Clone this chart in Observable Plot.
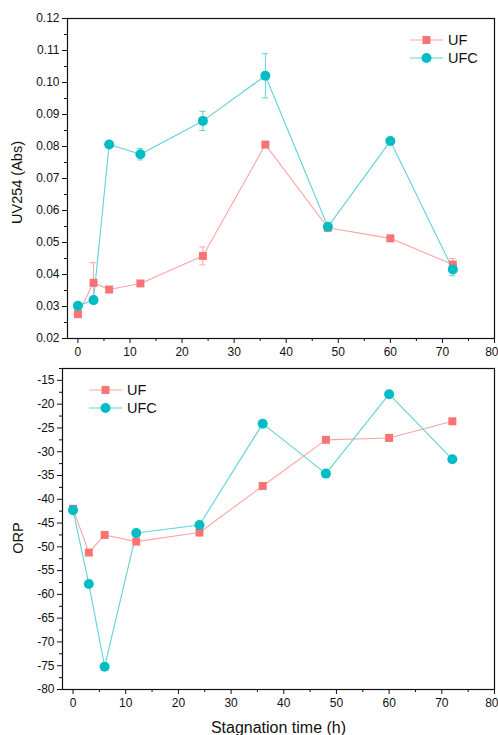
<!DOCTYPE html>
<html>
<head>
<meta charset="utf-8">
<script src="https://cdn.jsdelivr.net/npm/d3@7"></script>
<script src="https://cdn.jsdelivr.net/npm/@observablehq/plot@0.6"></script>
<style>
  body { margin: 0; background: #fff; font-family: "Liberation Sans", Arial, sans-serif; }
  #wrap { position: relative; width: 498px; height: 735px; }
  .legend { position: absolute; font-size: 14.5px; color: #111; }
  .legend svg { display: block; }
</style>
</head>
<body>
<div id="wrap"></div>
<script>
// ---------- data ----------
const times = [0, 3, 6, 12, 24, 36, 48, 60, 72];
const uvUF     = [0.0276, 0.0374, 0.0353, 0.0372, 0.0458, 0.0806, 0.0546, 0.0513, 0.0431];
const uvUFErr  = [0, 0.0063, 0, 0, 0.0028, 0, 0, 0, 0.0019];
const uvUFC    = [0.0302, 0.0320, 0.0806, 0.0776, 0.0880, 0.1021, 0.0549, 0.0817, 0.0416];
const uvUFCErr = [0, 0, 0.0005, 0.0018, 0.0030, 0.0069, 0, 0, 0.0020];
const orpUF    = [-42.0, -51.2, -47.5, -48.9, -47.0, -37.2, -27.5, -27.1, -23.6];
const orpUFC   = [-42.3, -57.8, -75.2, -47.1, -45.4, -24.1, -34.6, -17.9, -31.6];

const xTicks = [0, 10, 20, 30, 40, 50, 60, 70, 80];
const xMinor = [5, 15, 25, 35, 45, 55, 65, 75];
const uvTicks = [0.02, 0.03, 0.04, 0.05, 0.06, 0.07, 0.08, 0.09, 0.10, 0.11, 0.12];
const uvMinor = [0.025, 0.035, 0.045, 0.055, 0.065, 0.075, 0.085, 0.095, 0.105, 0.115];
const orpTicks = [-80, -75, -70, -65, -60, -55, -50, -45, -40, -35, -30, -25, -20, -15];
const orpMinor = [-77.5, -72.5, -67.5, -62.5, -57.5, -52.5, -47.5, -42.5, -37.5, -32.5, -27.5, -22.5, -17.5, -12.5];

const seriesNames = ["UF", "UFC"];
const markerColor = {UF: "#f87373", UFC: "#00bcc4"};
const lineColor = {UF: "#ffa3a3", UFC: "#5fd3da"};

const uvData = [];
times.forEach((t, i) => {
  uvData.push({x: t, y: uvUF[i], e: uvUFErr[i], s: "UF"});
  uvData.push({x: t, y: uvUFC[i], e: uvUFCErr[i], s: "UFC"});
});
const orpData = [];
times.forEach((t, i) => {
  orpData.push({x: t, y: orpUF[i], s: "UF"});
  orpData.push({x: t, y: orpUFC[i], s: "UFC"});
});

const font = "'Liberation Sans', Arial, sans-serif";
const wrap = document.getElementById("wrap");

function seriesMarks(data, withErr) {
  const marks = [];
  for (const s of seriesNames) {
    const d = data.filter(r => r.s === s);
    marks.push(Plot.line(d, {x: "x", y: "y", stroke: lineColor[s], strokeWidth: 1.1}));
  }
  if (withErr) {
    for (const s of seriesNames) {
      const d = data.filter(r => r.s === s && r.e > 0);
      marks.push(Plot.ruleX(d, {x: "x", y1: r => r.y - r.e, y2: r => r.y + r.e, stroke: lineColor[s], strokeWidth: 1}));
      marks.push(Plot.ruleY(d, {y: r => r.y + r.e, x1: r => r.x - 0.6, x2: r => r.x + 0.6, stroke: lineColor[s], strokeWidth: 1}));
      marks.push(Plot.ruleY(d, {y: r => r.y - r.e, x1: r => r.x - 0.6, x2: r => r.x + 0.6, stroke: lineColor[s], strokeWidth: 1}));
    }
  }
  marks.push(Plot.dot(data.filter(r => r.s === "UF"), {x: "x", y: "y", symbol: "square", r: 4.5, fill: markerColor.UF, stroke: "none"}));
  marks.push(Plot.dot(data.filter(r => r.s === "UFC"), {x: "x", y: "y", symbol: "circle", r: 5, fill: markerColor.UFC, stroke: "none"}));
  return marks;
}

// ---------- top panel ----------
const topChart = Plot.plot({
  width: 498, height: 362,
  marginTop: 18, marginLeft: 67, marginRight: 4, marginBottom: 24,
  style: {fontFamily: font, fontSize: "12px", color: "#111", background: "white", overflow: "visible"},
  x: {domain: [-2, 80]},
  y: {domain: [0.02, 0.12]},
  marks: [
    Plot.axisX(xTicks, {tickSize: 5, tickPadding: 4, fontSize: 12, label: null, stroke: "#111"}),
    Plot.axisX(xMinor, {tickSize: 3, tickFormat: () => "", label: null, stroke: "#111"}),
    Plot.axisY(uvTicks, {tickSize: 5, tickPadding: 3, fontSize: 12, tickFormat: d3.format(".2f"),
      label: "UV254 (Abs)", labelAnchor: "center", labelArrow: "none", labelOffset: 56, stroke: "#111"}),
    Plot.axisY(uvMinor, {tickSize: 3, tickFormat: () => "", label: null, stroke: "#111"}),
    Plot.frame({stroke: "#111", strokeWidth: 1.2}),
    ...seriesMarks(uvData, true)
  ]
});

// ---------- bottom panel ----------
const bottomChart = Plot.plot({
  width: 498, height: 373,
  marginTop: 6, marginLeft: 62, marginRight: 4, marginBottom: 46,
  style: {fontFamily: font, fontSize: "12px", color: "#111", background: "white", overflow: "visible"},
  x: {domain: [-2, 80]},
  y: {domain: [-80, -12.5]},
  marks: [
    Plot.axisX(xTicks, {tickSize: 5, tickPadding: 4, fontSize: 12, stroke: "#111",
      label: "Stagnation time (h)", labelAnchor: "center", labelArrow: "none", labelOffset: 43}),
    Plot.axisX(xMinor, {tickSize: 3, tickFormat: () => "", label: null, stroke: "#111"}),
    Plot.axisY(orpTicks, {tickSize: 5, tickPadding: 3, fontSize: 12, tickFormat: d => String(d),
      label: "ORP", labelAnchor: "center", labelArrow: "none", labelOffset: 50, stroke: "#111"}),
    Plot.axisY(orpMinor, {tickSize: 3, tickFormat: () => "", label: null, stroke: "#111"}),
    Plot.frame({stroke: "#111", strokeWidth: 1.2}),
    ...seriesMarks(orpData, false)
  ]
});

topChart.style.display = "block";
bottomChart.style.display = "block";
wrap.appendChild(topChart);
wrap.appendChild(bottomChart);

// style axis labels
for (const svg of [topChart, bottomChart]) {
  svg.querySelectorAll("g[aria-label='x-axis label'] text, g[aria-label='y-axis label'] text").forEach(t => {
    t.style.fontSize = "14.5px";
  });
  // keep the last x tick label inside the window
  svg.querySelectorAll("g[aria-label='x-axis tick label'] text").forEach(t => {
    if (t.textContent === "80") t.setAttribute("text-anchor", "end"), t.setAttribute("dx", "4");
  });
}
bottomChart.querySelectorAll("g[aria-label='x-axis label'] text").forEach(t => t.style.fontSize = "16px");
// rotated labels: negative dx moves them down on screen
topChart.querySelectorAll("g[aria-label='y-axis label'] text").forEach(t => t.setAttribute("dx", "-4"));
bottomChart.querySelectorAll("g[aria-label='y-axis label'] text").forEach(t => t.setAttribute("dx", "-9"));

// ---------- legends ----------
function legend(left, topPx) {
  const div = document.createElement("div");
  div.className = "legend";
  div.style.left = left + "px";
  div.style.top = topPx + "px";
  const rowH = 18;
  const svgNS = "http://www.w3.org/2000/svg";
  const svg = document.createElementNS(svgNS, "svg");
  svg.setAttribute("width", 80);
  svg.setAttribute("height", rowH * 2 + 4);
  seriesNames.forEach((s, i) => {
    const cy = 9 + i * rowH;
    const ln = document.createElementNS(svgNS, "line");
    ln.setAttribute("x1", 0); ln.setAttribute("x2", 33);
    ln.setAttribute("y1", cy); ln.setAttribute("y2", cy);
    ln.setAttribute("stroke", lineColor[s]); ln.setAttribute("stroke-width", 1.2);
    svg.appendChild(ln);
    if (s === "UF") {
      const r = document.createElementNS(svgNS, "rect");
      r.setAttribute("x", 12.5); r.setAttribute("y", cy - 4); r.setAttribute("width", 8); r.setAttribute("height", 8);
      r.setAttribute("fill", markerColor[s]);
      svg.appendChild(r);
    } else {
      const c = document.createElementNS(svgNS, "circle");
      c.setAttribute("cx", 16.5); c.setAttribute("cy", cy); c.setAttribute("r", 5);
      c.setAttribute("fill", markerColor[s]);
      svg.appendChild(c);
    }
    const tx = document.createElementNS(svgNS, "text");
    tx.setAttribute("x", 38); tx.setAttribute("y", cy + 5);
    tx.setAttribute("font-size", "14.5px");
    tx.setAttribute("font-family", font);
    tx.setAttribute("fill", "#111");
    tx.textContent = s;
    svg.appendChild(tx);
  });
  div.appendChild(svg);
  wrap.appendChild(div);
}
legend(410, 31);
legend(89, 381);
</script>
</body>
</html>
